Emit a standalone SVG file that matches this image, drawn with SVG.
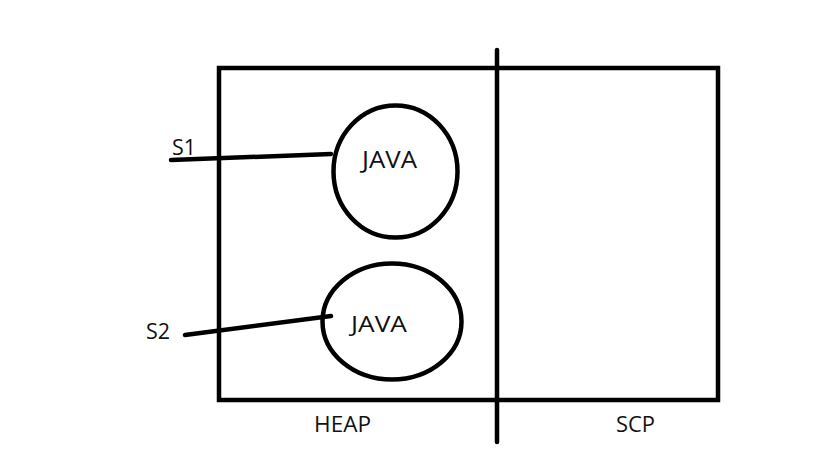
<svg xmlns="http://www.w3.org/2000/svg" width="819" height="460" viewBox="0 0 819 460">
<style>
.s{fill:none;stroke:#000;stroke-width:4.5;stroke-linecap:round}
.t{font-family:"Open Sans","Liberation Sans",Arial,sans-serif;font-size:22px;fill:#111}
</style>
<rect width="819" height="460" fill="#fff"/>
<g id="heap-scp-box">
<rect class="s" x="219" y="68" width="499" height="332"/>
<line class="s" x1="497" y1="50" x2="497" y2="442"/>
<text class="t" x="314" y="432" textLength="57" lengthAdjust="spacingAndGlyphs">HEAP</text>
<text class="t" x="616" y="432" textLength="39" lengthAdjust="spacingAndGlyphs">SCP</text>
</g>
<g id="java1">
<ellipse class="s" cx="395.5" cy="171.5" rx="62" ry="66"/>
<text class="t" x="362" y="168" style="font-size:23px" textLength="55" lengthAdjust="spacingAndGlyphs">JAVA</text>
</g>
<g id="java2">
<ellipse class="s" cx="392" cy="321.5" rx="69.5" ry="58"/>
<text class="t" x="351" y="332" style="font-size:22px" textLength="56" lengthAdjust="spacingAndGlyphs">JAVA</text>
</g>
<g id="s1">
<text class="t" x="172" y="155" textLength="24" lengthAdjust="spacingAndGlyphs">S1</text>
</g>
<g id="s2">
<text class="t" x="146" y="339" textLength="24" lengthAdjust="spacingAndGlyphs">S2</text>
</g>
<g id="connectors">
<line class="s" x1="171" y1="160" x2="331" y2="154"/>
<line class="s" x1="185" y1="335" x2="331" y2="316"/>
</g>
</svg>
